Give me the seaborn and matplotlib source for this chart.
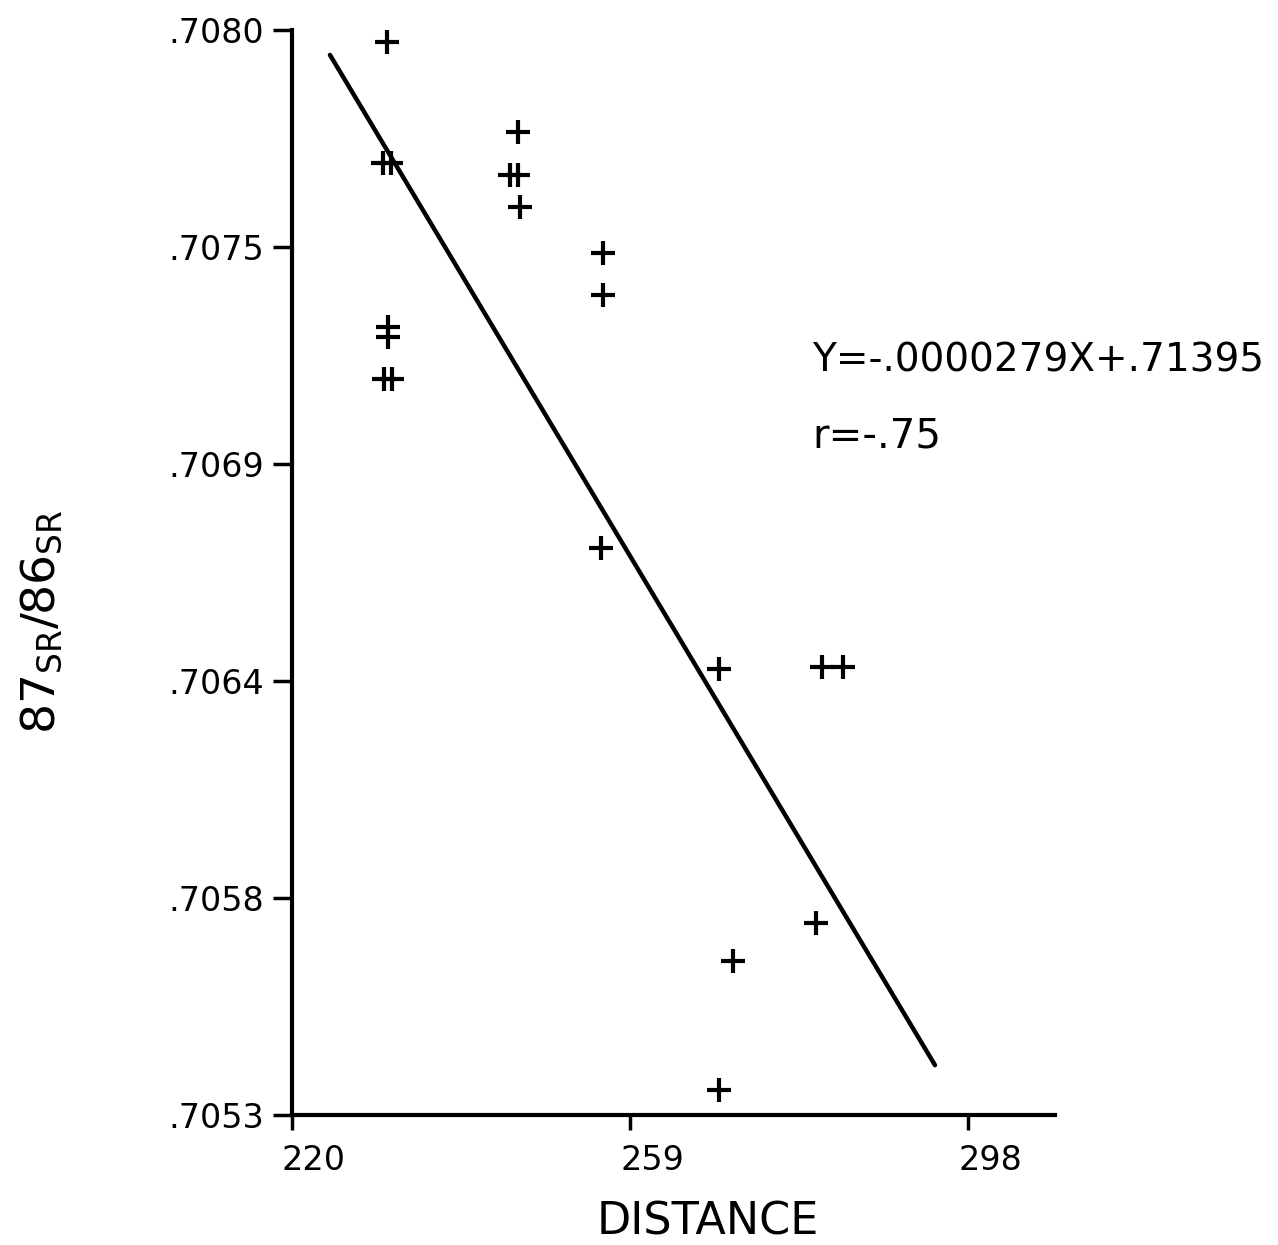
import matplotlib
matplotlib.use("Agg")
import matplotlib.pyplot as plt
import matplotlib.transforms as mtransforms
import numpy as np
import pandas as pd
import seaborn as sns

# Sample measurements: distance vs 87Sr/86Sr ratio
distance = [230.96, 230.50, 231.42, 231.08, 231.08, 230.61, 231.54,
            246.08, 245.15, 246.08, 246.31,
            255.88, 255.88, 255.65,
            269.27, 281.15, 283.57,
            280.46, 270.88, 269.27]
sr_ratio = [0.707970, 0.707669, 0.707669, 0.707261, 0.707236, 0.707132, 0.707132,
            0.707746, 0.707639, 0.707639, 0.707560,
            0.707445, 0.707341, 0.706711,
            0.706410, 0.706415, 0.706415,
            0.705778, 0.705683, 0.705362]

# Fitted regression line (end points)
fit_x = [224.38, 294.19]
fit_y = [0.707938, 0.705424]

x_ticks = [220, 259, 298]
x_tick_labels = ["220", "259", "298"]
y_ticks = list(np.linspace(0.7053, 0.7080, 6))
y_tick_labels = [".7053", ".7058", ".7064", ".7069", ".7075", ".7080"]

equation_text = "Y=-.0000279X+.71395"
r_text = "r=-.75"

sns.set_theme(style="white")
plt.rcParams["font.family"] = ["DejaVu Sans"]
plt.rcParams["mathtext.default"] = "regular"

fig = plt.figure(figsize=(12.78, 12.45), dpi=100)
ax = fig.add_axes([292 / 1278, 1 - 1115 / 1245, (1055 - 292) / 1278, (1115 - 30) / 1245])

pts = pd.DataFrame({"distance": distance, "ratio": sr_ratio})
sns.scatterplot(data=pts, x="distance", y="ratio", marker="+", s=300,
                color="black", linewidth=3.0, ax=ax, zorder=3)

fit = pd.DataFrame({"x": fit_x, "y": fit_y})
sns.lineplot(data=fit, x="x", y="y", color="black", linewidth=3.2, ax=ax,
             sort=False, zorder=2)

ax.set_xlim(220, 220 + 763 / 8.667)
ax.set_ylim(0.7053, 0.7080)
ax.set_xticks(x_ticks)
ax.set_xticklabels(x_tick_labels)
ax.set_yticks(y_ticks)
ax.set_yticklabels(y_tick_labels)
ax.set_xlabel("")
ax.set_ylabel("")

for side in ["top", "right"]:
    ax.spines[side].set_visible(False)
for side in ["left", "bottom"]:
    ax.spines[side].set_color("black")
    ax.spines[side].set_linewidth(3.0)

ax.tick_params(axis="y", direction="out", length=14, width=2.5, pad=6,
               labelsize=24, colors="black", left=True)
ax.tick_params(axis="x", direction="out", length=11, width=2.5, pad=10,
               labelsize=24, colors="black", bottom=True)

shift = mtransforms.ScaledTranslation(-10 / 100, 0, fig.dpi_scale_trans)
for lbl in ax.get_xticklabels():
    lbl.set_horizontalalignment("left")
    lbl.set_transform(lbl.get_transform() + shift)

ax.grid(False)

fig.text(812 / 1278, 1 - 361 / 1245, equation_text, fontsize=28,
         ha="left", va="center", color="black")
fig.text(812 / 1278, 1 - 437 / 1245, r_text, fontsize=29,
         ha="left", va="center", color="black")

fig.text(708 / 1278, 1 - 1222 / 1245, "DISTANCE", fontsize=32,
         ha="center", va="center", color="black")
fig.text(42 / 1278, 1 - 622 / 1245, r"$87_{SR}/86_{SR}$", fontsize=34,
         rotation=90, ha="center", va="center", color="black")

fig.savefig("out.png", dpi=100, facecolor="white")
